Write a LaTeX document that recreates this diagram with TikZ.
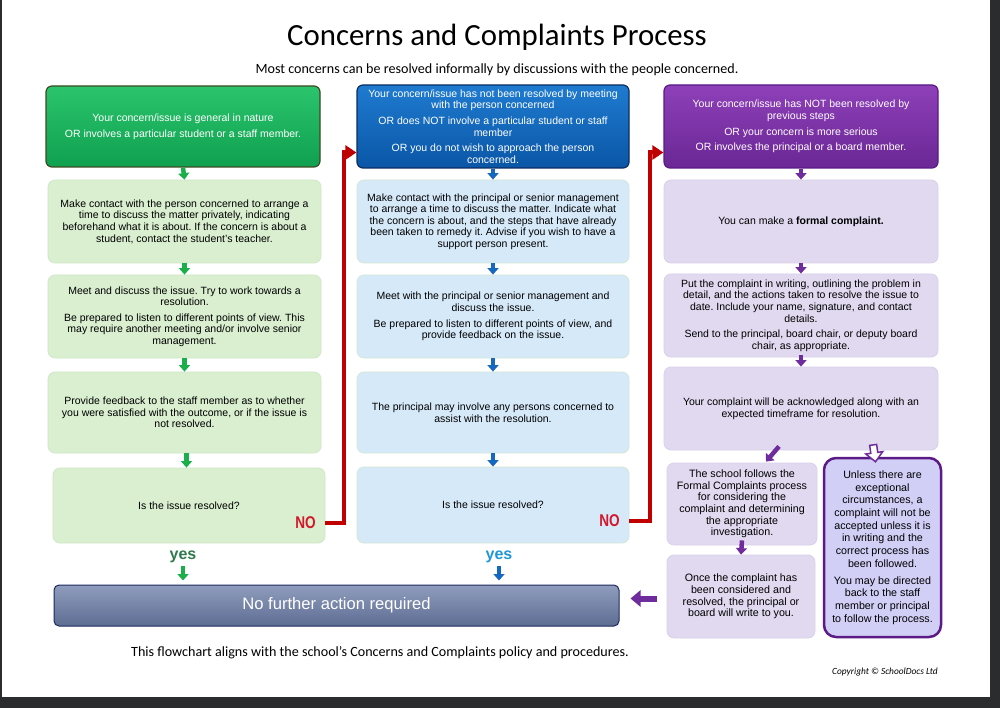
\documentclass[tikz,border=0pt]{standalone}
\usepackage{fontspec}
\setmainfont{Liberation Sans}
\newfontfamily\calfont{Carlito}
\usetikzlibrary{arrows.meta,calc,shadows}
\frenchspacing
\definecolor{gHdrT}{HTML}{2BC46C}
\definecolor{gHdrB}{HTML}{0FA050}
\definecolor{gHdrD}{HTML}{3E4A22}
\definecolor{gLt}{HTML}{D9EFD0}
\definecolor{gLtD}{HTML}{CFE8C6}
\definecolor{gArr}{HTML}{1AAF4B}
\definecolor{gYes}{HTML}{2F7A4C}
\definecolor{bHdrT}{HTML}{1F7BD0}
\definecolor{bHdrB}{HTML}{0A56A6}
\definecolor{bHdrD}{HTML}{0B2D62}
\definecolor{bLt}{HTML}{D6E9F9}
\definecolor{bLtD}{HTML}{D3E7D6}
\definecolor{bArr}{HTML}{1468BF}
\definecolor{bYes}{HTML}{1F97D6}
\definecolor{pHdrT}{HTML}{8E40B8}
\definecolor{pHdrB}{HTML}{6A2795}
\definecolor{pHdrD}{HTML}{5B1A85}
\definecolor{pLt}{HTML}{E1D9F0}
\definecolor{pLtD}{HTML}{D8D1E9}
\definecolor{pArr}{HTML}{6E2C9C}
\definecolor{pBox}{HTML}{D2CFF7}
\definecolor{nfaT}{HTML}{8F9CBD}
\definecolor{nfaB}{HTML}{5D6D92}
\definecolor{nfaD}{HTML}{1D2A5C}
\definecolor{redC}{HTML}{C00000}
\definecolor{noC}{HTML}{D4172B}
\definecolor{frameC}{HTML}{2A2C2E}
\newcommand\bfnt{\fontsize{10.5}{11.6}\selectfont}
\newcommand\sfnt{\fontsize{10.7}{11.6}\selectfont}
\newcommand\wfnt{\fontsize{10.7}{12.7}\selectfont}
\tikzset{
  hdr/.style={rectangle, rounded corners=6pt, line width=1.2pt, text=white, align=center, inner sep=0pt, font=\bfnt},
  lbox/.style={rectangle, rounded corners=7pt, line width=0.8pt, align=center, inner sep=0pt, text=black, font=\bfnt},
  gbox/.style={lbox, fill=gLt, draw=gLtD},
  bbox/.style={lbox, fill=bLt, draw=bLtD},
  pbox/.style={lbox, fill=pLt, draw=pLtD},
  blockarr/.style={line width=4.5pt, -{Triangle[width=11pt,length=6.5pt]}},
  garr/.style={blockarr, draw=gArr},
  barr/.style={blockarr, draw=bArr},
  parr/.style={blockarr, draw=pArr},
  redline/.style={draw=redC, line width=4pt, line join=miter, -{Triangle[width=14pt,length=11pt]}},
  nolbl/.style={text=noC, font=\fontsize{17}{17}\selectfont\bfseries, inner sep=0pt},
  yeslbl/.style={font=\fontsize{16}{16}\selectfont\bfseries, inner sep=0pt},
}
\begin{document}
\begin{tikzpicture}[x=1pt,y=-1pt]
\useasboundingbox (0,0) rectangle (1000,708);
\fill[frameC] (0,0) rectangle (1000,708);
\fill[white] (2,0) rectangle (990,697);

% titles
\node[font=\calfont\fontsize{30.8}{34}\selectfont] (title) at (497,37) {Concerns and Complaints Process};
\node[font=\calfont\fontsize{14.1}{16}\selectfont] (sub) at (497,70) {Most concerns can be resolved informally by discussions with the people concerned.};
\node[font=\calfont\fontsize{14.1}{16}\selectfont] (foot) at (380,653) {This flowchart aligns with the school’s Concerns and Complaints policy and procedures.};
\node[font=\calfont\itshape\fontsize{9.4}{11}\selectfont] (copy) at (885,672) {Copyright © SchoolDocs Ltd};

% column 1
\node[hdr, top color=gHdrT, bottom color=gHdrB, draw=gHdrD, minimum width=274, minimum height=81] (g1) at (183,126.5)
 {Your concern/issue is general in nature\\[4pt] OR involves a particular student or a staff member.};
\node[gbox, minimum width=273, minimum height=83] (g2) at (184.5,221.5)
 {Make contact with the person concerned to arrange a\\ time to discuss the matter privately, indicating\\ beforehand what it is about. If the concern is about a\\ student, contact the student’s teacher.};
\node[gbox, minimum width=273, minimum height=83] (g3) at (184.5,316.5)
 {Meet and discuss the issue. Try to work towards a\\ resolution.\\[4pt] Be prepared to listen to different points of view. This\\ may require another meeting and/or involve senior\\ management.};
\node[gbox, minimum width=273, minimum height=81] (g4) at (184.5,412.5)
 {Provide feedback to the staff member as to whether\\ you were satisfied with the outcome, or if the issue is\\ not resolved.};
\node[gbox, minimum width=272, minimum height=75] (g5) at (189,505.5)
 {Is the issue resolved?};

% column 2
\node[hdr, top color=bHdrT, bottom color=bHdrB, draw=bHdrD, minimum width=272, minimum height=83] (c1) at (493,126.5)
 {Your concern/issue has not been resolved by meeting\\ with the person concerned\\[4pt] OR does NOT involve a particular student or staff\\ member\\[4pt] OR you do not wish to approach the person\\ concerned.};
\node[bbox, minimum width=272, minimum height=83] (c2) at (493,221.5)
 {Make contact with the principal or senior management\\ to arrange a time to discuss the matter. Indicate what\\ the concern is about, and the steps that have already\\ been taken to remedy it. Advise if you wish to have a\\ support person present.};
\node[bbox, minimum width=272, minimum height=83] (c3) at (493,316.5)
 {Meet with the principal or senior management and\\ discuss the issue.\\[4pt] Be prepared to listen to different points of view, and\\ provide feedback on the issue.};
\node[bbox, minimum width=272, minimum height=81] (c4) at (493,412.5)
 {The principal may involve any persons concerned to\\ assist with the resolution.};
\node[bbox, minimum width=272, minimum height=76] (c5) at (493,505)
 {Is the issue resolved?};

% column 3
\node[hdr, top color=pHdrT, bottom color=pHdrB, draw=pHdrD, minimum width=274, minimum height=83] (p1) at (801,126.5)
 {Your concern/issue has NOT been resolved by\\ previous steps\\[4pt] OR your concern is more serious\\[4pt] OR involves the principal or a board member.};
\node[pbox, minimum width=274, minimum height=83] (p2) at (801,221.5)
 {You can make a \textbf{formal complaint.}};
\node[pbox, minimum width=274, minimum height=83] (p3) at (801,315.5)
 {Put the complaint in writing, outlining the problem in\\ detail, and the actions taken to resolve the issue to\\ date. Include your name, signature, and contact\\ details.\\[4pt] Send to the principal, board chair, or deputy board\\ chair, as appropriate.};
\node[pbox, minimum width=274, minimum height=83] (p4) at (801,408.5)
 {Your complaint will be acknowledged along with an\\ expected timeframe for resolution.};
\node[pbox, minimum width=150, minimum height=82, font=\sfnt] (p5a) at (742,504)
 {The school follows the\\ Formal Complaints process\\ for considering the\\ complaint and determining\\ the appropriate\\ investigation.};
\node[pbox, minimum width=148, minimum height=83, font=\sfnt] (p5b) at (741,596.5)
 {Once the complaint has\\ been considered and\\ resolved, the principal or\\ board will write to you.};
\node[lbox, fill=pBox, draw=pHdrD, line width=2.5pt, rounded corners=12pt, minimum width=117, minimum height=179, font=\wfnt] (p6) at (882.5,547.5)
 {Unless there are\\ exceptional\\ circumstances, a\\ complaint will not be\\ accepted unless it is\\ in writing and the\\ correct process has\\ been followed.\\[4pt] You may be directed\\ back to the staff\\ member or principal\\ to follow the process.};

% final box
\node[rectangle, rounded corners=5pt, top color=nfaT, bottom color=nfaB, draw=nfaD, line width=1pt, minimum width=565, minimum height=41, text=white, font=\fontsize{16.6}{19}\selectfont] (nfa) at (336.5,605.5) {No further action required};

% labels
\node[nolbl, anchor=east] (no1) at (316,523) {\scalebox{0.8}[1]{NO}};
\node[nolbl, anchor=east] (no2) at (620,521) {\scalebox{0.8}[1]{NO}};
\node[yeslbl, text=gYes] (yes1) at (183,557) {yes};
\node[yeslbl, text=bYes] (yes2) at (499,557) {yes};

% column arrows
\draw[garr] (g1.south) -- (g2.north);
\draw[garr] (g2.south) -- (g3.north);
\draw[garr] (g3.south) -- (g4.north);
\draw[garr] ([xshift=2pt]g4.south) -- ([xshift=2pt]g4.south |- g5.north);
\draw[garr, shorten <=3pt, shorten >=4pt] (yes1.south) -- (yes1.south |- nfa.north);

\draw[barr] (c1.south) -- (c2.north);
\draw[barr] (c2.south) -- (c3.north);
\draw[barr] (c3.south) -- (c4.north);
\draw[barr] (c4.south) -- (c5.north);
\draw[barr, shorten <=3pt, shorten >=4pt] (yes2.south) -- (yes2.south |- nfa.north);

\draw[parr] (p1.south) -- (p2.north);
\draw[parr] (p2.south) -- (p3.north);
\draw[parr, shorten <=-2pt] (p3.south) -- (p4.north);
\draw[parr] ([xshift=-22pt,yshift=4pt]p4.south) -- ([xshift=24pt,yshift=1pt]p5a.north);
\draw[parr] ([yshift=5pt]p5a.south) -- (p5b.north);
\draw[draw=pArr, line width=6pt, -{Triangle[width=16pt,length=10pt]}, shorten <=10pt, shorten >=11pt] ([yshift=-2pt]p5b.west) -- ([yshift=-2pt]p5b.west -| nfa.east);
\begin{scope}[shift={([xshift=-7pt,yshift=-5pt]p6.north)}, rotate=8]
  \draw[draw=pArr, fill=white, line width=1.5pt, line join=miter]
    (0,0) -- (-8.5,-9) -- (-3.5,-9) -- (-3.5,-17) -- (3.5,-17) -- (3.5,-9) -- (8.5,-9) -- cycle;
\end{scope}

% red NO connectors
\draw[redline] (no1.east -| g5.east) -- ++(19,0) |- ([yshift=-26pt]c1.west);
\draw[redline] (no2.east -| c5.east) -- ++(21,0) |- ([yshift=-26pt]p1.west);
\end{tikzpicture}
\end{document}
